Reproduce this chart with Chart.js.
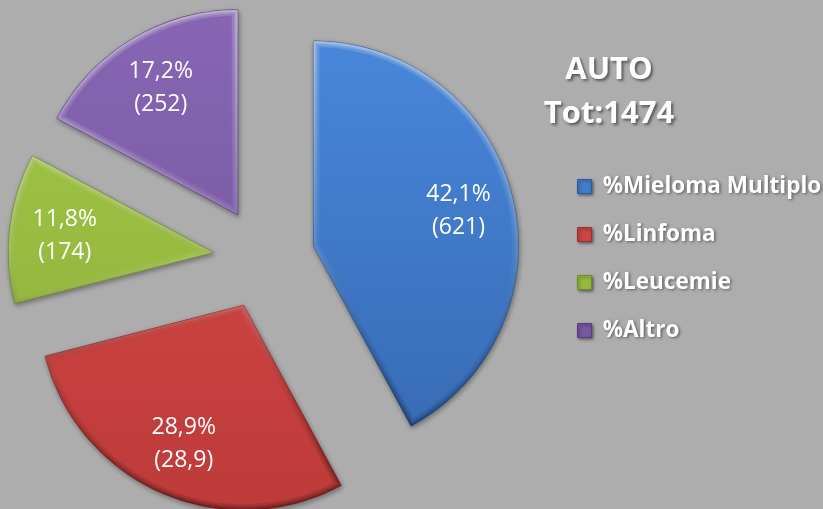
<!DOCTYPE html>
<html>
<head>
<meta charset="utf-8">
<script src="https://cdn.jsdelivr.net/npm/chart.js@4.4.1/dist/chart.umd.min.js"></script>
<style>
  html, body { margin: 0; padding: 0; background: #adadad; overflow: hidden; }
  #wrap { width: 847px; height: 509px; position: relative; margin-left: -24px; }
</style>
</head>
<body>
<div id="wrap"><canvas id="c"></canvas></div>
<script>
// ---- data ----
const categories = ['%Mieloma Multiplo', '%Linfoma', '%Leucemie', '%Altro'];
const percentages = [42.1, 28.9, 11.8, 17.2];
const percentLabels = ['42,1%', '28,9%', '11,8%', '17,2%'];
const countLabels = ['(621)', '(28,9)', '(174)', '(252)'];
const titleLines = ['AUTO', 'Tot:1474'];

// ---- styles ----
const topColors = ['#4a8ade', '#dc4d4a', '#a5c94a', '#8866b4'];
const bottomColors = ['#3566ae', '#bd3b39', '#8aad36', '#6e5097'];
const edgeColors = ['#2f5a96', '#9a302e', '#6f8e28', '#583d7c'];
const EXPLODE = 51;
const RADIUS = 205;
const LABEL_FRAC = 0.73;

const explodePlugin = {
  id: 'explode',
  afterDatasetUpdate(chart, args) {
    const meta = chart.getDatasetMeta(args.index);
    meta.data.forEach(arc => {
      const mid = (arc.startAngle + arc.endAngle) / 2;
      arc.x += Math.cos(mid) * EXPLODE;
      arc.y += Math.sin(mid) * EXPLODE;
    });
  }
};

const shadowPlugin = {
  id: 'legendShadow',
  beforeDraw(chart) {
    const ctx = chart.ctx;
    ctx.shadowColor = 'rgba(0,0,0,0.45)';
    ctx.shadowBlur = 3;
    ctx.shadowOffsetX = 1.5;
    ctx.shadowOffsetY = 1.5;
  },
  beforeDatasetsDraw(chart) {
    const ctx = chart.ctx;
    ctx.shadowColor = 'rgba(0,0,0,0.35)';
    ctx.shadowBlur = 5;
    ctx.shadowOffsetX = 1;
    ctx.shadowOffsetY = 2;
  },
  afterDatasetsDraw(chart) {
    const ctx = chart.ctx;
    ctx.shadowColor = 'rgba(0,0,0,0)';
    ctx.shadowBlur = 0;
    ctx.shadowOffsetX = 0;
    ctx.shadowOffsetY = 0;
  }
};

function arcPath(ctx, arc) {
  ctx.beginPath();
  ctx.moveTo(arc.x, arc.y);
  ctx.arc(arc.x, arc.y, arc.outerRadius, arc.startAngle, arc.endAngle);
  ctx.closePath();
}

const bevelPlugin = {
  id: 'bevel',
  afterDatasetsDraw(chart) {
    const ctx = chart.ctx;
    const meta = chart.getDatasetMeta(0);
    meta.data.forEach(arc => {
      ctx.save();
      ctx.shadowColor = 'rgba(0,0,0,0)';
      arcPath(ctx, arc);
      ctx.clip();
      const g = ctx.createLinearGradient(0, arc.y - arc.outerRadius, 0, arc.y + arc.outerRadius);
      g.addColorStop(0, 'rgba(255,255,255,0.16)');
      g.addColorStop(0.5, 'rgba(255,255,255,0.05)');
      g.addColorStop(0.75, 'rgba(0,0,0,0.04)');
      g.addColorStop(1, 'rgba(0,0,0,0.12)');
      ctx.strokeStyle = g;
      ctx.lineJoin = 'miter';
      [12, 8, 5, 3].forEach(w => {
        ctx.lineWidth = w;
        arcPath(ctx, arc);
        ctx.stroke();
      });
      ctx.restore();
    });
  }
};

const labelPlugin = {
  id: 'sliceLabels',
  afterDatasetsDraw(chart) {
    const ctx = chart.ctx;
    const meta = chart.getDatasetMeta(0);
    ctx.save();
    ctx.shadowColor = 'rgba(0,0,0,0)';
    ctx.font = '23px "Open Sans"';
    ctx.fillStyle = '#ffffff';
    ctx.textAlign = 'center';
    ctx.textBaseline = 'alphabetic';
    meta.data.forEach((arc, i) => {
      const mid = (arc.startAngle + arc.endAngle) / 2;
      const r = arc.outerRadius * LABEL_FRAC;
      const x = arc.x + Math.cos(mid) * r;
      const y = arc.y + Math.sin(mid) * r;
      ctx.fillText(percentLabels[i], x, y - 16.5 + 8.3);
      ctx.fillText(countLabels[i], x, y + 16.5 + 8.3);
    });
    ctx.restore();
  }
};

const titlePlugin = {
  id: 'sideTitle',
  afterDraw(chart) {
    const ctx = chart.ctx;
    const legend = chart.legend;
    const cx = legend.left + 57;
    ctx.save();
    ctx.font = 'bold 31px "Open Sans"';
    ctx.fillStyle = '#ffffff';
    ctx.textAlign = 'center';
    ctx.textBaseline = 'alphabetic';
    ctx.shadowColor = 'rgba(0,0,0,0.5)';
    ctx.shadowBlur = 3;
    ctx.shadowOffsetX = 2;
    ctx.shadowOffsetY = 2;
    ctx.fillText(titleLines[0], cx, 79);
    ctx.fillText(titleLines[1], cx, 122.5);
    ctx.restore();
  }
};

new Chart(document.getElementById('c'), {
  type: 'pie',
  data: {
    labels: categories,
    datasets: [{
      data: percentages,
      backgroundColor: (c) => {
        const g = c.chart.ctx.createLinearGradient(0, 0, 0, c.chart.height);
        g.addColorStop(0, topColors[c.dataIndex]);
        g.addColorStop(1, bottomColors[c.dataIndex]);
        return g;
      },
      borderColor: (c) => edgeColors[c.dataIndex],
      borderWidth: 1,
      borderJoinStyle: 'miter',
      radius: RADIUS
    }]
  },
  options: {
    responsive: true,
    maintainAspectRatio: false,
    animation: false,
    layout: { padding: { left: 0, top: 8, right: 0, bottom: 0 } },
    plugins: {
      tooltip: { enabled: false },
      legend: {
        position: 'right',
        align: 'center',
        maxWidth: 271,
        labels: {
          color: '#ffffff',
          font: { family: '"Open Sans"', size: 22.5, weight: 'bold' },
          boxWidth: 14,
          boxHeight: 14,
          padding: 25.5
        }
      }
    }
  },
  plugins: [explodePlugin, shadowPlugin, bevelPlugin, labelPlugin, titlePlugin]
});
</script>
</body>
</html>
